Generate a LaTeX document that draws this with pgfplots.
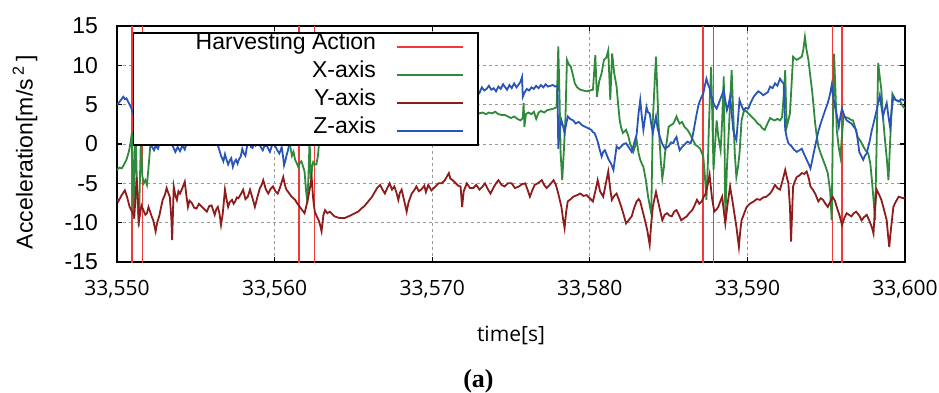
\documentclass[border=0pt]{standalone}
\usepackage{fontspec}
\setmainfont{Liberation Sans}
\newfontfamily\osans{Open Sans}
\newfontfamily\lserif{Liberation Serif}
\usepackage{pgfplots}
\pgfplotsset{compat=1.18}
\definecolor{cred}{HTML}{F03A3A}
\definecolor{cgreen}{HTML}{2F8A3C}
\definecolor{cdred}{HTML}{8E1C1C}
\definecolor{cblue}{HTML}{2A55B8}
\begin{document}
\begin{tikzpicture}
\begin{axis}[name=ax, scale only axis, width=394pt, height=118pt,
 xmin=33550, xmax=33600, ymin=-15, ymax=15,
 scaled x ticks=false,
 xtick={33550,33560,33570,33580,33590,33600},
 xticklabels={{33,550},{33,560},{33,570},{33,580},{33,590},{33,600}},
 ytick={-15,-10,-5,0,5,10,15},
 yticklabels={-15,-10,-5,0,5,10,15},
 tick align=inside, major tick length=2.5pt, tick style={black, line width=0.6pt},
 grid=major, grid style={gray!80, line width=0.5pt, dash pattern=on 1.5pt off 1.5pt},
 axis line style={line width=0.8pt},
 xticklabel style={font=\osans\fontsize{10.5}{12}\selectfont, yshift=-5.5pt},
 yticklabel style={font=\fontsize{11.5}{13}\selectfont, xshift=-6pt},
 legend style={at={(0.0203,0.9746)}, anchor=north west, draw=black, line width=0.75pt, fill=white, inner xsep=7pt, inner ysep=0pt, column sep=10pt, row sep=0pt, font=\fontsize{11.5}{13}\selectfont, nodes={inner sep=0pt, text height=8.6pt, text depth=5.4pt}},
 legend cell align=right, legend plot pos=right,
 legend image code/.code={\draw[#1] (0pt,0pt) -- (33pt,0pt);},
]
\addplot[cred, line width=0.8pt] coordinates {(33550.97,-16) (33550.97,16)};
\addlegendentry{\hspace*{24pt}Harvesting Action}
\addplot[cred, line width=0.8pt, forget plot] coordinates {(33551.63,-16) (33551.63,16)};
\addplot[cred, line width=0.8pt, forget plot] coordinates {(33561.55,-16) (33561.55,16)};
\addplot[cred, line width=0.8pt, forget plot] coordinates {(33562.52,-16) (33562.52,16)};
\addplot[cred, line width=0.8pt, forget plot] coordinates {(33587.20,-16) (33587.20,16)};
\addplot[cred, line width=0.8pt, forget plot] coordinates {(33587.86,-16) (33587.86,16)};
\addplot[cred, line width=0.8pt, forget plot] coordinates {(33595.41,-16) (33595.41,16)};
\addplot[cred, line width=0.8pt, forget plot] coordinates {(33596.00,-16) (33596.00,16)};

\addplot[cgreen, line width=0.9pt] table {
33550.00 -3.3
33550.15 -3.0
33550.30 -3.1
33550.45 -2.6
33550.60 -2.0
33550.75 -1.0
33550.85 0.0
33550.95 1.5
33551.00 -3.0
33551.05 -9.5
33551.12 -2.0
33551.18 2.0
33551.28 -6.5
33551.38 -10.5
33551.45 -5.0
33551.52 1.0
33551.60 -4.0
33551.70 -5.0
33551.80 -4.6
33551.90 -5.2
33552.00 -3.0
33552.10 -0.5
33552.20 1.5
33552.50 3.0
33553.00 3.5
33554.00 3.0
33555.00 3.8
33556.00 3.2
33557.00 3.6
33558.00 3.0
33559.00 2.5
33560.00 1.5
33560.60 1.0
33560.95 0.2
33561.10 -1.5
33561.20 -1.0
33561.30 -2.0
33561.40 -2.4
33561.50 -2.9
33561.60 -2.4
33561.70 -2.2
33561.80 -2.8
33561.90 -3.5
33562.00 -6.0
33562.08 -7.4
33562.15 -4.0
33562.22 0.5
33562.30 -4.5
33562.40 -2.8
33562.45 -2.3
33562.55 -2.6
33562.65 -2.6
33562.75 -1.5
33562.85 0.8
33563.20 2.5
33564.00 3.5
33565.00 3.8
33566.00 3.6
33567.00 4.0
33568.00 3.9
33569.00 4.1
33570.00 3.8
33571.00 4.0
33572.00 4.1
33572.85 4.1
33573.00 3.9
33573.20 4.0
33573.40 3.8
33573.60 4.0
33573.80 3.9
33574.00 4.1
33574.20 3.8
33574.40 3.7
33574.60 3.7
33574.80 3.5
33575.00 3.3
33575.20 3.5
33575.40 3.2
33575.60 3.0
33575.75 3.3
33575.80 5.2
33575.85 2.2
33575.95 3.8
33576.10 4.0
33576.30 3.8
33576.45 4.1
33576.60 3.2
33576.75 4.0
33576.90 4.2
33577.10 4.0
33577.30 4.3
33577.50 4.4
33577.70 4.5
33577.90 4.7
33578.00 12.4
33578.08 6.0
33578.15 -1.2
33578.25 -4.6
33578.35 -1.0
33578.45 3.0
33578.55 10.7
33578.65 10.2
33578.80 9.8
33578.95 8.6
33579.05 7.7
33579.20 7.2
33579.40 6.9
33579.60 6.8
33579.80 6.7
33580.00 6.8
33580.20 6.9
33580.35 11.3
33580.45 6.0
33580.60 8.0
33580.75 9.0
33580.90 10.7
33581.05 11.0
33581.17 11.9
33581.30 5.6
33581.42 11.5
33581.55 9.0
33581.70 7.3
33581.80 5.0
33581.90 3.0
33582.00 2.0
33582.10 1.4
33582.20 1.6
33582.30 1.8
33582.45 1.0
33582.55 0.1
33582.65 -0.4
33582.76 -1.0
33582.87 -0.3
33582.97 0.5
33583.10 -1.2
33583.20 -2.0
33583.30 -2.5
33583.40 -2.9
33583.55 -4.5
33583.70 -6.7
33583.80 -7.8
33583.90 -8.8
33584.00 3.0
33584.12 8.0
33584.20 11.1
33584.28 7.0
33584.35 3.0
33584.50 -2.0
33584.60 -4.4
33584.70 -3.0
33584.77 -1.2
33584.90 0.5
33585.00 2.2
33585.15 2.4
33585.30 2.6
33585.40 3.0
33585.50 3.5
33585.60 3.0
33585.70 2.6
33585.85 2.8
33586.00 2.2
33586.20 1.8
33586.40 1.1
33586.55 0.5
33586.70 -0.1
33586.85 -0.3
33587.00 -0.6
33587.20 -1.6
33587.30 -4.0
33587.40 -7.1
33587.50 -2.0
33587.55 1.8
33587.62 6.0
33587.70 9.8
33587.78 3.0
33587.85 -3.3
33587.95 0.0
33588.05 3.0
33588.15 1.0
33588.30 -0.8
33588.40 3.0
33588.50 8.6
33588.55 0.0
33588.60 -9.7
33588.70 -3.0
33588.80 0.9
33588.90 5.0
33589.00 9.4
33589.10 4.0
33589.20 -1.2
33589.30 -4.2
33589.40 -3.0
33589.50 -1.2
33589.63 3.0
33589.75 4.0
33589.85 4.3
33590.00 4.0
33590.16 3.7
33590.30 3.4
33590.50 3.0
33590.65 2.6
33590.80 2.4
33590.95 2.0
33591.10 1.8
33591.25 2.5
33591.44 3.3
33591.60 3.1
33591.75 3.0
33591.90 3.2
33592.07 3.0
33592.20 3.4
33592.30 6.0
33592.40 9.4
33592.45 5.0
33592.50 2.2
33592.60 3.0
33592.70 3.9
33592.80 7.5
33592.90 11.1
33593.00 10.9
33593.13 10.7
33593.30 10.9
33593.45 11.1
33593.55 12.0
33593.65 13.6
33593.75 12.0
33593.87 10.7
33594.00 8.5
33594.10 6.9
33594.20 4.8
33594.30 2.6
33594.40 1.0
33594.50 -0.3
33594.65 -1.2
33594.80 -2.0
33594.95 -2.8
33595.10 -3.7
33595.25 -6.0
33595.35 -9.7
33595.42 2.0
33595.50 11.5
33595.60 6.0
33595.67 1.8
33595.80 -0.5
33595.90 -1.6
33596.00 1.0
33596.10 3.5
33596.25 3.4
33596.40 3.3
33596.55 3.1
33596.70 3.0
33596.85 2.0
33597.00 0.9
33597.20 0.3
33597.35 -0.3
33597.50 -0.8
33597.67 -1.2
33597.80 -2.5
33597.90 -4.6
33598.00 -7.0
33598.10 -9.7
33598.20 0.0
33598.30 10.3
33598.40 8.5
33598.50 6.9
33598.60 3.5
33598.73 0.5
33598.85 -2.0
33598.95 -4.6
33599.05 0.0
33599.20 6.4
33599.30 6.0
33599.40 5.6
33599.55 5.5
33599.70 5.4
33599.80 5.0
33599.90 4.7
33600.00 4.5
};
\addlegendentry{X-axis}

\addplot[cdred, line width=0.9pt] table {
33550.00 -7.0
33550.08 -7.3
33550.30 -6.5
33550.50 -5.9
33550.65 -6.8
33550.80 -8.0
33550.95 -8.6
33551.10 -9.2
33551.25 -4.2
33551.40 -9.7
33551.55 -7.8
33551.67 -8.4
33551.80 -9.0
33551.90 -8.8
33552.00 -8.0
33552.10 -8.6
33552.20 -9.2
33552.30 -9.7
33552.45 -11.1
33552.55 -10.0
33552.70 -9.0
33552.80 -8.0
33552.90 -7.1
33553.05 -6.4
33553.15 -5.6
33553.25 -6.2
33553.35 -6.7
33553.45 -9.5
33553.50 -12.2
33553.60 -5.4
33553.70 -6.5
33553.80 -7.1
33553.90 -6.0
33554.00 -6.3
33554.15 -5.6
33554.30 -4.8
33554.40 -6.5
33554.50 -8.0
33554.60 -7.2
33554.75 -7.5
33554.90 -8.1
33555.05 -8.2
33555.20 -7.6
33555.40 -8.0
33555.55 -8.3
33555.70 -8.6
33555.85 -7.9
33556.00 -7.8
33556.10 -8.4
33556.20 -9.0
33556.30 -8.3
33556.40 -8.0
33556.50 -8.8
33556.60 -10.3
33556.70 -9.0
33556.75 -8.0
33556.85 -5.8
33556.95 -7.0
33557.05 -8.0
33557.15 -7.4
33557.30 -7.1
33557.40 -7.6
33557.50 -7.3
33557.60 -6.8
33557.70 -6.9
33557.85 -6.4
33558.00 -5.8
33558.15 -7.0
33558.30 -6.7
33558.44 -5.8
33558.60 -6.9
33558.75 -8.0
33558.90 -6.8
33559.07 -5.6
33559.18 -5.2
33559.28 -4.6
33559.45 -5.8
33559.60 -6.3
33559.75 -5.7
33559.90 -5.4
33560.05 -6.0
33560.20 -6.3
33560.35 -5.5
33560.55 -4.2
33560.65 -5.2
33560.75 -5.8
33560.90 -6.2
33561.08 -6.7
33561.20 -6.9
33561.30 -7.1
33561.45 -7.6
33561.60 -8.0
33561.75 -8.4
33561.90 -8.8
33562.00 -8.0
33562.10 -7.1
33562.25 -5.5
33562.35 -4.2
33562.45 -7.0
33562.55 -8.6
33562.70 -9.3
33562.80 -9.7
33562.90 -10.4
33562.98 -11.1
33563.10 -9.0
33563.20 -8.4
33563.35 -8.8
33563.50 -8.6
33563.65 -8.9
33563.80 -9.2
33564.10 -9.4
33564.46 -9.4
33564.80 -9.1
33565.10 -8.8
33565.30 -8.6
33565.50 -8.2
33565.70 -7.9
33565.94 -7.3
33566.15 -6.8
33566.36 -6.1
33566.50 -5.6
33566.70 -5.2
33566.85 -5.8
33567.00 -6.3
33567.15 -5.6
33567.30 -5.0
33567.45 -5.8
33567.60 -5.4
33567.75 -6.3
33567.85 -7.1
33567.95 -6.2
33568.06 -5.8
33568.20 -7.0
33568.38 -8.6
33568.50 -7.4
33568.70 -6.3
33568.85 -5.9
33569.00 -5.4
33569.15 -6.0
33569.30 -5.8
33569.50 -5.3
33569.60 -6.1
33569.75 -5.2
33569.95 -5.9
33570.20 -5.4
33570.40 -5.0
33570.60 -5.0
33570.80 -4.6
33571.06 -3.7
33571.15 -4.4
33571.30 -4.6
33571.50 -5.0
33571.65 -5.3
33571.80 -5.4
33571.90 -8.0
33572.00 -6.0
33572.20 -5.0
33572.40 -5.6
33572.60 -5.6
33572.80 -5.2
33573.00 -5.8
33573.20 -5.4
33573.35 -5.0
33573.55 -5.8
33573.70 -6.3
33573.90 -5.5
33574.05 -5.0
33574.20 -4.6
33574.40 -5.2
33574.60 -5.4
33574.80 -5.0
33575.04 -5.0
33575.25 -5.6
33575.50 -5.4
33575.70 -5.1
33575.90 -5.0
33576.05 -5.8
33576.20 -6.7
33576.35 -5.9
33576.50 -5.2
33576.70 -5.0
33576.95 -4.6
33577.10 -5.2
33577.26 -5.6
33577.50 -5.1
33577.70 -4.6
33577.85 -5.2
33578.00 -6.3
33578.20 -8.0
33578.30 -9.5
33578.40 -10.7
33578.50 -8.6
33578.60 -7.3
33578.80 -7.0
33578.95 -6.7
33579.20 -6.5
33579.40 -6.3
33579.60 -6.6
33579.80 -6.5
33580.00 -6.9
33580.20 -7.3
33580.35 -6.0
33580.50 -4.6
33580.65 -6.0
33580.85 -6.7
33581.00 -5.2
33581.17 -3.5
33581.30 -5.8
33581.40 -7.1
33581.55 -6.6
33581.70 -6.3
33581.85 -7.1
33582.00 -8.0
33582.15 -9.0
33582.30 -10.1
33582.50 -9.6
33582.66 -9.2
33582.80 -8.2
33582.97 -7.3
33583.10 -7.0
33583.20 -7.3
33583.35 -8.5
33583.50 -9.7
33583.65 -11.0
33583.80 -12.8
33583.90 -10.0
33584.00 -8.0
33584.10 -7.0
33584.20 -6.1
33584.40 -7.9
33584.60 -9.7
33584.75 -9.0
33584.90 -8.8
33585.05 -9.1
33585.20 -9.2
33585.35 -8.6
33585.50 -8.4
33585.65 -9.0
33585.80 -9.7
33586.00 -9.4
33586.15 -9.2
33586.30 -8.8
33586.50 -8.4
33586.65 -7.8
33586.80 -7.1
33586.95 -7.6
33587.10 -7.3
33587.20 -6.8
33587.35 -6.3
33587.50 -5.0
33587.60 -3.9
33587.75 -6.8
33587.90 -8.6
33588.05 -8.3
33588.15 -8.0
33588.30 -7.2
33588.40 -6.7
33588.50 -8.5
33588.60 -10.1
33588.75 -7.5
33588.90 -5.4
33589.05 -7.2
33589.17 -8.8
33589.30 -10.5
33589.46 -13.1
33589.55 -11.0
33589.63 -9.7
33589.80 -8.8
33589.95 -8.0
33590.15 -7.6
33590.40 -7.3
33590.60 -7.0
33590.80 -7.1
33591.00 -6.8
33591.20 -6.7
33591.44 -6.3
33591.60 -5.8
33591.75 -5.2
33591.90 -5.6
33592.07 -5.8
33592.25 -4.5
33592.40 -3.3
33592.50 -4.2
33592.60 -5.0
33592.70 -8.0
33592.77 -12.4
33592.85 -8.0
33592.90 -5.4
33593.00 -4.8
33593.13 -4.2
33593.30 -4.0
33593.45 -3.7
33593.60 -3.8
33593.76 -3.5
33593.90 -4.4
33594.00 -5.4
33594.15 -5.8
33594.30 -6.3
33594.50 -7.3
33594.65 -6.9
33594.80 -7.1
33594.95 -7.6
33595.10 -8.0
33595.25 -7.4
33595.40 -6.7
33595.55 -7.2
33595.67 -8.0
33595.85 -9.1
33596.00 -10.3
33596.15 -9.4
33596.30 -8.8
33596.45 -9.0
33596.60 -9.2
33596.75 -8.8
33596.90 -8.6
33597.10 -9.1
33597.25 -9.7
33597.40 -9.3
33597.57 -9.0
33597.75 -9.8
33597.90 -10.6
33598.00 -11.4
33598.10 -8.0
33598.20 -5.8
33598.35 -6.4
33598.50 -7.1
33598.65 -8.2
33598.84 -9.7
33598.92 -11.5
33599.00 -13.1
33599.10 -11.0
33599.26 -8.0
33599.40 -7.4
33599.60 -6.7
33599.75 -6.8
33599.90 -6.9
33600.00 -6.8
};
\addlegendentry{Y-axis}

\addplot[cblue, line width=0.9pt] table {
33550.00 5.0
33550.10 5.2
33550.25 5.6
33550.40 6.0
33550.50 5.7
33550.60 5.8
33550.75 5.2
33550.90 4.6
33551.00 4.0
33551.30 3.0
33551.60 1.5
33551.90 1.0
33552.10 0.3
33552.20 -0.3
33552.35 -0.8
33552.45 -0.2
33552.60 -0.6
33552.75 0.4
33553.00 1.2
33553.30 0.6
33553.55 -0.3
33553.70 -1.0
33553.85 -0.4
33554.00 -0.9
33554.15 -0.2
33554.30 -0.7
33554.45 0.3
33554.80 1.0
33555.20 0.8
33555.60 0.6
33555.90 0.4
33556.20 0.3
33556.40 -0.2
33556.50 -0.8
33556.60 -1.5
33556.75 -2.2
33556.85 -1.3
33556.95 -2.0
33557.05 -2.6
33557.15 -2.1
33557.25 -1.8
33557.35 -2.9
33557.45 -2.3
33557.55 -2.0
33557.65 -2.5
33557.75 -1.9
33557.85 -1.6
33557.95 -0.6
33558.05 -1.2
33558.15 -1.5
33558.25 -0.3
33558.40 0.3
33558.50 -0.4
33558.60 -0.5
33558.70 0.1
33558.80 -0.2
33558.95 0.4
33559.10 -0.3
33559.25 -0.8
33559.35 -0.3
33559.50 -0.2
33559.60 -0.6
33559.70 -1.0
33559.80 -0.4
33559.90 0.3
33560.00 -0.2
33560.10 -0.5
33560.20 -0.9
33560.30 -1.2
33560.40 -0.7
33560.45 -0.4
33560.55 -1.8
33560.60 -2.7
33560.70 -2.0
33560.75 -1.5
33560.85 -0.8
33560.90 -0.3
33561.00 0.5
33561.10 1.0
33561.50 2.5
33562.00 3.5
33563.00 4.5
33564.00 5.0
33565.00 5.5
33566.00 5.2
33567.00 6.0
33568.00 6.3
33569.00 6.0
33570.00 6.5
33571.00 6.8
33572.00 6.6
33572.60 7.0
33572.85 6.9
33573.00 6.5
33573.15 7.2
33573.30 6.8
33573.45 7.0
33573.60 7.4
33573.75 6.9
33573.90 7.1
33574.05 6.7
33574.20 7.3
33574.35 7.0
33574.50 7.6
33574.60 7.3
33574.75 6.9
33574.90 7.5
33575.05 7.1
33575.20 7.7
33575.35 7.2
33575.50 7.6
33575.60 7.9
33575.70 8.5
33575.75 6.0
33575.85 6.5
33576.00 7.0
33576.15 6.8
33576.30 7.2
33576.45 7.0
33576.60 7.4
33576.75 7.1
33576.90 7.5
33577.05 7.2
33577.20 7.6
33577.35 7.3
33577.50 7.4
33577.65 7.5
33577.80 7.3
33577.95 7.4
33578.00 -0.6
33578.10 2.0
33578.20 3.0
33578.30 2.3
33578.40 1.4
33578.50 2.5
33578.60 3.5
33578.75 3.2
33578.95 3.0
33579.10 2.6
33579.30 2.8
33579.50 2.4
33579.70 2.2
33579.90 2.0
33580.10 1.8
33580.20 1.5
33580.30 1.4
33580.40 0.9
33580.50 0.3
33580.60 -0.5
33580.75 -1.6
33580.85 -1.0
33580.96 -0.8
33581.10 -1.5
33581.20 -2.0
33581.35 -2.5
33581.50 -3.3
33581.60 -1.8
33581.70 -0.3
33581.85 -0.6
33582.00 -0.3
33582.15 0.0
33582.30 0.1
33582.50 -0.5
33582.66 -1.0
33582.80 0.0
33582.97 1.2
33583.10 4.0
33583.20 5.6
33583.30 3.5
33583.40 1.8
33583.50 3.2
33583.60 4.7
33583.70 4.0
33583.80 3.9
33583.90 2.5
33584.00 1.4
33584.10 2.5
33584.20 3.5
33584.30 2.0
33584.45 0.9
33584.60 0.0
33584.77 -0.6
33584.90 -0.4
33585.00 -0.3
33585.15 0.2
33585.30 0.1
33585.40 0.6
33585.50 0.9
33585.60 0.0
33585.70 -0.8
33585.85 -0.4
33586.00 -0.1
33586.20 0.3
33586.40 0.1
33586.50 0.8
33586.60 1.8
33586.75 3.5
33586.90 5.0
33587.05 5.8
33587.20 6.4
33587.30 7.4
33587.40 8.3
33587.50 7.6
33587.60 7.1
33587.70 6.2
33587.85 5.2
33587.95 4.8
33588.05 4.5
33588.15 5.0
33588.30 5.8
33588.40 6.3
33588.50 6.9
33588.60 5.5
33588.70 4.3
33588.80 5.0
33588.90 6.0
33589.00 4.0
33589.10 1.8
33589.20 1.0
33589.30 0.5
33589.40 3.0
33589.50 5.6
33589.60 5.0
33589.75 4.3
33589.90 4.6
33590.06 4.5
33590.20 5.2
33590.40 6.0
33590.55 6.4
33590.70 6.7
33590.85 6.5
33591.00 6.2
33591.15 6.4
33591.30 6.6
33591.44 7.3
33591.60 7.1
33591.75 7.7
33591.90 7.4
33592.07 8.3
33592.20 7.9
33592.30 7.7
33592.40 1.8
33592.50 0.8
33592.60 0.1
33592.70 -0.1
33592.80 -0.3
33592.95 -0.7
33593.13 -1.0
33593.30 -0.8
33593.45 -0.6
33593.60 -1.3
33593.76 -2.0
33593.90 -2.6
33594.00 -3.1
33594.10 -2.2
33594.20 -1.2
33594.35 0.2
33594.50 1.6
33594.65 2.6
33594.80 3.5
33594.95 4.4
33595.10 5.2
33595.25 6.4
33595.35 7.5
33595.45 6.0
33595.56 4.7
33595.70 3.4
33595.80 2.2
33595.90 3.5
33596.00 4.5
33596.15 3.6
33596.30 3.0
33596.45 2.8
33596.60 2.6
33596.75 2.2
33596.90 1.8
33597.00 0.5
33597.10 -1.0
33597.25 -1.6
33597.35 -2.0
33597.45 -1.5
33597.57 -1.2
33597.75 0.3
33597.90 1.8
33598.05 3.0
33598.20 4.3
33598.30 5.3
33598.40 6.2
33598.50 4.8
33598.60 3.5
33598.72 4.4
33598.84 5.2
33598.95 3.5
33599.05 2.2
33599.15 4.2
33599.26 6.0
33599.40 5.6
33599.60 5.4
33599.75 5.7
33599.90 5.6
33600.00 5.5
};
\addlegendentry{Z-axis}
\end{axis}
\node[font=\fontsize{11.5}{13}\selectfont, rotate=90] at ([xshift=-46pt,yshift=-4pt]ax.west) {Acceleration[m/s\,\textsuperscript{2}\,]};
\node[font=\osans\fontsize{10.5}{12}\selectfont] at ([yshift=-36.5pt]ax.south) {time[s]};
\node[font=\lserif\bfseries\fontsize{13}{15}\selectfont] at ([xshift=180.75pt,yshift=-59.5pt]ax.south west) {(a)};
\pgfresetboundingbox
\path ([xshift=-58.5pt,yshift=-65pt]ax.south west) rectangle ([xshift=17pt,yshift=13pt]ax.north east);
\end{tikzpicture}
\end{document}
